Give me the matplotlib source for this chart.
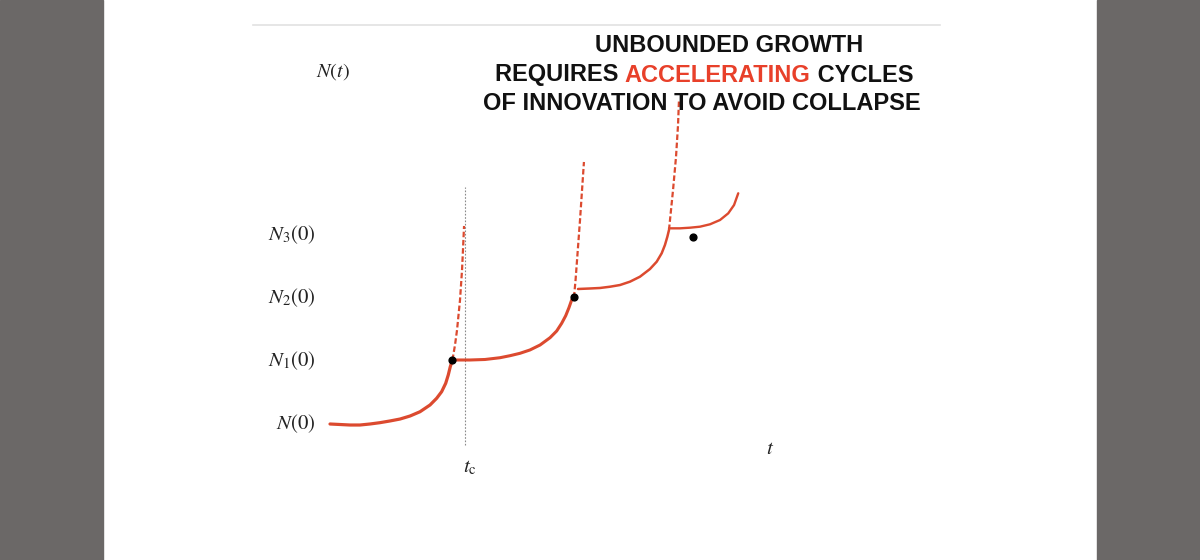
import numpy as np
import matplotlib
matplotlib.use("Agg")
import matplotlib.pyplot as plt

plt.rcParams['mathtext.fontset'] = 'stix'

# curve segments (t in units of t_c, N in units of N(0))
seg1_t = [0.000, 0.074, 0.148, 0.222, 0.296, 0.370, 0.444, 0.519, 0.593, 0.667,
          0.741, 0.790, 0.827, 0.857, 0.876, 0.891, 0.907]
seg1_n = [1.000, 0.992, 0.984, 0.984, 1.000, 1.021, 1.048, 1.079, 1.127, 1.195,
          1.302, 1.408, 1.513, 1.646, 1.778, 1.910, 2.016]
dash1_t = [0.907, 0.926, 0.941, 0.963, 0.978, 0.985, 0.993]
dash1_n = [2.016, 2.254, 2.492, 2.968, 3.444, 3.762, 4.143]

seg2_t = [0.907, 1.037, 1.148, 1.259, 1.333, 1.407, 1.481, 1.556, 1.630, 1.679,
          1.716, 1.746, 1.770, 1.790, 1.807]
seg2_n = [2.016, 2.016, 2.024, 2.052, 2.084, 2.122, 2.175, 2.254, 2.370, 2.476,
          2.598, 2.719, 2.846, 2.968, 3.008]
dash2_t = [1.807, 1.819, 1.830, 1.852, 1.867, 1.881]
dash2_n = [3.008, 3.286, 3.603, 4.238, 4.714, 5.159]

seg3_t = [1.837, 1.926, 2.000, 2.074, 2.148, 2.222, 2.296, 2.370, 2.420, 2.457,
          2.481, 2.499, 2.511]
seg3_n = [3.143, 3.151, 3.159, 3.179, 3.206, 3.259, 3.338, 3.460, 3.576, 3.710,
          3.841, 3.973, 4.079]
dash3_t = [2.511, 2.526, 2.541, 2.563, 2.578, 2.585]
dash3_n = [4.079, 4.397, 4.714, 5.238, 5.746, 6.143]

seg4_t = [2.511, 2.593, 2.667, 2.741, 2.815, 2.889, 2.950, 2.993, 3.024]
seg4_n = [4.106, 4.106, 4.116, 4.132, 4.170, 4.238, 4.344, 4.476, 4.662]

dots_t = [0.907, 1.807, 2.687]
dots_n = [2.016, 3.008, 3.973]

tc = 1.0
level_vals = [1, 2, 3, 4]
level_labels = [r'$N(0)$', r'$N_1(0)$', r'$N_2(0)$', r'$N_3(0)$']

red = '#dc4a2f'

fig = plt.figure(figsize=(12, 5.6), dpi=100)
ax = fig.add_axes([0, 0, 1, 1])
# pixel 330 -> t=0, 135 px per t ; pixel y 424 -> N=1, 63 px per N
ax.set_xlim(-330 / 135, (1200 - 330) / 135)
ax.set_ylim(1 - (560 - 424) / 63, 1 + 424 / 63)
ax.axis('off')

# slide frame: gray bars on both sides
ax.axvspan(-330 / 135, (103 - 330) / 135, color='#6b6867', zorder=0)
ax.axvspan((1097 - 330) / 135, (1200 - 330) / 135, color='#6b6867', zorder=0)
ax.plot([(253 - 330) / 135, (940 - 330) / 135], [1 + (424 - 25) / 63] * 2,
        color='#e2e2e2', lw=1.2)

# critical time marker
ax.plot([tc, tc], [0.667, 4.76], color='#8a8a8a', lw=0.8, ls=(0, (1.5, 1.5)))

for t, n, w in [(seg1_t, seg1_n, 2.3), (seg2_t, seg2_n, 2.2),
                (seg3_t, seg3_n, 1.8), (seg4_t, seg4_n, 1.7)]:
    ax.plot(t, n, color=red, lw=w, solid_capstyle='round', solid_joinstyle='round', zorder=3)
for t, n in [(dash1_t, dash1_n), (dash2_t, dash2_n), (dash3_t, dash3_n)]:
    ax.plot(t, n, color=red, lw=1.6, ls=(0, (2.5, 1.2)), zorder=2)
ax.scatter(dots_t, dots_n, s=24, color='black', zorder=4)

for v, lab in zip(level_vals, level_labels):
    ax.text(-0.104, v, lab, ha='right', va='center', fontsize=15, color='#222222')
ax.text(0.02, 6.59, r'$N(t)$', ha='center', va='center', fontsize=14.5, color='#222222')
ax.text(1.04, 0.32, r'$t_{\rm c}$', ha='center', va='center', fontsize=15, color='#222222')
ax.text(3.26, 0.62, r'$t$', ha='center', va='center', fontsize=15, color='#222222')

# title
tkw = dict(fontsize=17, fontweight='bold', family='Liberation Sans', va='center')
fig.text(729 / 1200, 1 - 46 / 560, 'UNBOUNDED GROWTH', ha='center', color='#111111', **tkw)
fig.text(702 / 1200, 1 - 103 / 560, 'OF INNOVATION TO AVOID COLLAPSE', ha='center',
         color='#111111', **tkw)

parts = [('REQUIRES ', '#111111'), ('ACCELERATING', '#e8402a'), (' CYCLES', '#111111')]
fig.canvas.draw()
renderer = fig.canvas.get_renderer()
widths = []
for s, c in parts:
    tmp = fig.text(0, 0, s.replace(' ', '\u00a0'), **tkw)
    widths.append(tmp.get_window_extent(renderer).width)
    tmp.remove()
x = 704 - sum(widths) / 2
for (s, c), w in zip(parts, widths):
    fig.text(x / 1200, 1 - 75 / 560, s.replace(' ', '\u00a0'), ha='left', color=c, **tkw)
    x += w

fig.savefig('out.png', dpi=100)
